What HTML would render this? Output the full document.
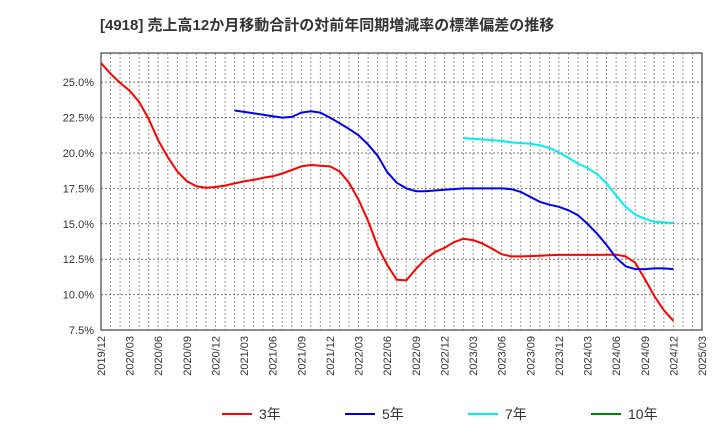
<!DOCTYPE html>
<html><head><meta charset="utf-8"><style>
body{margin:0;background:#fff;}
svg text{font-family:"Liberation Sans","Noto Sans CJK JP",sans-serif;}
</style></head><body>
<svg id="chart" width="720" height="440" xmlns="http://www.w3.org/2000/svg">
<text x="100" y="30" font-size="15" font-weight="bold" fill="#333">[4918]  売上高12か月移動合計の対前年同期増減率の標準偏差の推移</text>
<g id="grid"></g><g id="axes"></g><g id="series"></g><g id="legend"></g>
</svg>
<script>
const xTickLabels=["2019/12","2020/03","2020/06","2020/09","2020/12","2021/03","2021/06","2021/09","2021/12","2022/03","2022/06","2022/09","2022/12","2023/03","2023/06","2023/09","2023/12","2024/03","2024/06","2024/09","2024/12","2025/03"];
const yTickValues=[7.5,10,12.5,15,17.5,20,22.5,25];
const red3=[26.35,25.6,24.95,24.4,23.6,22.4,20.9,19.7,18.7,18.0,17.65,17.55,17.6,17.7,17.85,18.0,18.1,18.25,18.35,18.55,18.8,19.05,19.15,19.1,19.05,18.7,17.9,16.7,15.2,13.4,12.1,11.05,11.0,11.8,12.5,13.0,13.3,13.7,13.95,13.85,13.6,13.25,12.85,12.7,12.7,12.72,12.75,12.78,12.8,12.8,12.8,12.8,12.8,12.82,12.82,12.7,12.25,11.1,9.9,8.9,8.15];
const blue5Start=14;
const blue5=[23.0,22.9,22.8,22.7,22.6,22.5,22.55,22.85,22.95,22.85,22.5,22.1,21.7,21.25,20.6,19.8,18.65,17.9,17.5,17.3,17.3,17.35,17.4,17.45,17.5,17.5,17.5,17.5,17.5,17.45,17.25,16.9,16.55,16.35,16.2,15.95,15.6,15.0,14.3,13.5,12.6,12.0,11.8,11.8,11.85,11.85,11.8];
const cyan7Start=38;
const cyan7=[21.05,21.0,20.95,20.9,20.85,20.75,20.7,20.65,20.55,20.35,20.05,19.65,19.25,18.95,18.5,17.85,17.0,16.2,15.65,15.35,15.15,15.1,15.05];
const green10=[];
const L=101,R=702,T=53,B=330,NM=63,YMIN=7.5,YMAX=27.06;
const NS="http://www.w3.org/2000/svg";
function xs(i){return L+(R-L)*i/NM;}
function ys(v){return B-(v-YMIN)/(YMAX-YMIN)*(B-T);}
function mk(tag,attrs,parent){const e=document.createElementNS(NS,tag);for(const k in attrs)e.setAttribute(k,attrs[k]);parent.appendChild(e);return e;}
const grid=document.getElementById('grid'),axes=document.getElementById('axes'),ser=document.getElementById('series'),leg=document.getElementById('legend');
for(let i=1;i<NM;i++){const l=mk('line',{x1:xs(i),x2:xs(i),y1:T,y2:B,stroke:'#999','stroke-dasharray':'2,2','stroke-width':1},grid);

}
yTickValues.forEach(v=>{const y=ys(v);const l=mk('line',{x1:L,x2:R,y1:y,y2:y,stroke:'#777','stroke-dasharray':'2,2','stroke-width':1},grid);


const t=mk('text',{x:L-7,y:y+4,'font-size':11,'text-anchor':'end',fill:'#333'},axes);t.textContent=v.toFixed(1)+'%';

});
xTickLabels.forEach((s,k)=>{const x=xs(k*3);const t=mk('text',{x:0,y:0,'font-size':11,'text-anchor':'end',fill:'#333',transform:`translate(${x+4},${B+6}) rotate(-90)`},axes);t.textContent=s;

});
const frame=mk('rect',{x:L,y:T,width:R-L,height:B-T,fill:'none',stroke:'#444','stroke-width':1.2},axes);


function line(vals,start,color,name){if(!vals.length)return;const p=vals.map((v,i)=>xs(start+i).toFixed(1)+','+ys(v).toFixed(1)).join(' ');
const pl=mk('polyline',{points:p,fill:'none',stroke:color,'stroke-width':2,'stroke-linejoin':'round'},ser);

}
line(red3,0,'#ff0000','series-3y');
line(blue5,blue5Start,'#0000ee','series-5y');
line(cyan7,cyan7Start,'#00eeee','series-7y');
line(green10,0,'#008000','series-10y');
[['3年','#ff0000',222],['5年','#0000cc',345],['7年','#00eeee',468],['10年','#008000',591]].forEach(([n,c,x])=>{
const g=mk('g',{},leg);


mk('line',{x1:x,x2:x+30,y1:414,y2:414,stroke:c,'stroke-width':2},g);
const t=mk('text',{x:x+37,y:419,'font-size':14,fill:'#333'},g);t.textContent=n;});
</script>
</body></html>
